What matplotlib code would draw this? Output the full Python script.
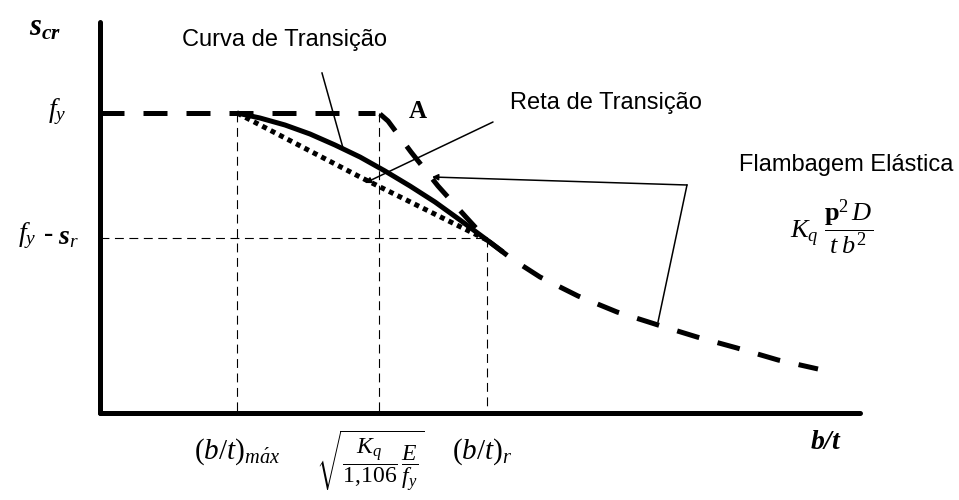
import matplotlib.pyplot as plt

plt.rcParams['mathtext.fontset'] = 'custom'
plt.rcParams['mathtext.rm'] = 'Liberation Serif'
plt.rcParams['mathtext.it'] = 'Liberation Serif:italic'
plt.rcParams['mathtext.bf'] = 'Liberation Serif:bold'
plt.rcParams['mathtext.bfit'] = 'Liberation Serif:italic:bold'

# diagram coordinates (same scale as the picture, y grows downwards)
origin = (100, 413)
axis_top = 22
axis_end = 860

fy = 113          # f_y level
fy_sr = 238       # f_y - s_r level
bt_max = 237      # (b/t)max
bt_sqrt = 379     # sqrt(Kq/1,106 E/fy)
bt_r = 487        # (b/t)r
plateau_end = 375

# Curva de Transição (solid)
curva_x = [237, 260, 285, 310, 335, 360, 385, 410, 435, 460, 487, 503]
curva_y = [113, 118, 125, 134, 145, 157, 171, 186, 202, 220, 240, 252]

# Reta de Transição (dotted)
reta_x = [237, 362, 487]
reta_y = [113, 178, 240]

# Flambagem Elástica (thick dashed)
elast_x = [380, 388, 411, 438, 465, 487, 512, 540, 578, 617, 658, 697, 737, 778, 818]
elast_y = [114, 121, 152, 186, 216, 240, 259, 277, 296, 312, 325, 337, 348, 360, 369]

# leader lines
curva_lead = ([322, 343], [73, 148])
reta_lead = ([493, 365], [122, 183])
flamb_lead = ([687, 658], [185, 322])
flamb_tip = ([687, 432], [185, 177])

fig = plt.figure(figsize=(9.59, 5.0), dpi=100)
ax = fig.add_axes([0, 0, 1, 1])
ax.set_xlim(0, 959)
ax.set_ylim(500, 0)
ax.axis('off')

thick = 3.6
# axes
ax.plot([origin[0], origin[0]], [axis_top, origin[1]], color='k', lw=thick, solid_capstyle='round')
ax.plot([origin[0], axis_end], [origin[1], origin[1]], color='k', lw=thick, solid_capstyle='round')

# thin dashed guides
thin = dict(color='k', lw=0.8, ls=(0, (8, 5)))
ax.plot([origin[0], bt_r], [fy_sr, fy_sr], **thin)
ax.plot([bt_max, bt_max], [fy, origin[1]], **thin)
ax.plot([bt_sqrt, bt_sqrt], [fy, origin[1]], **thin)
ax.plot([bt_r, bt_r], [fy_sr, origin[1]], **thin)

# plateau and elastic curve
ax.plot([origin[0], plateau_end], [fy, fy], color='k', lw=thick,
        ls=(0, (4.8, 3.8)), dash_capstyle='butt')
ax.plot(elast_x, elast_y, color='k', lw=thick, ls=(0, (4.6, 3.8)), dash_capstyle='butt')

# transition curve and line
ax.plot(curva_x, curva_y, color='k', lw=thick, solid_capstyle='butt', solid_joinstyle='round')
ax.plot(reta_x, reta_y, color='k', lw=thick, ls=(0, (1, 0.9)), dash_capstyle='butt')

# leaders
ax.plot(*curva_lead, color='k', lw=1.1)
ax.annotate('', xy=(reta_lead[0][1], reta_lead[1][1]), xytext=(reta_lead[0][0], reta_lead[1][0]),
            arrowprops=dict(arrowstyle='-|>', color='k', lw=1.1, mutation_scale=9, shrinkA=0, shrinkB=0))
ax.plot(*flamb_lead, color='k', lw=1.1)
ax.annotate('', xy=(flamb_tip[0][1], flamb_tip[1][1]), xytext=(flamb_tip[0][0], flamb_tip[1][0]),
            arrowprops=dict(arrowstyle='-|>', color='k', lw=1.1, mutation_scale=9, shrinkA=0, shrinkB=0))

# texts
sans = dict(family='Liberation Sans', fontsize=17, color='k')
ax.text(285, 40, 'Curva de Transição', ha='center', va='center', **sans)
ax.text(606, 103, 'Reta de Transição', ha='center', va='center', **sans)
ax.text(846, 165, 'Flambagem Elástica', ha='center', va='center', **sans)

ax.text(418, 112, 'A', family='Liberation Serif', fontweight='bold', fontsize=18,
        ha='center', va='center')
ax.text(790, 228, r'$K_q\ \dfrac{\mathbf{p}^2\,D}{t\;b^2}$', fontsize=19, ha='left', va='center')

ax.text(45, 28, r'$\mathbfit{s}_{\mathbfit{cr}}$', fontsize=22, ha='center', va='center')
ax.text(57, 112, r'$f_y$', fontsize=20, ha='center', va='center')
ax.text(27, 236, r'$f_y$', fontsize=20, ha='center', va='center')
ax.text(49, 234, '-', family='Liberation Serif', fontweight='bold', fontsize=20,
        ha='center', va='center')
ax.text(68, 236, r'$\mathbfit{s}_r$', fontsize=20, ha='center', va='center')

ax.text(237, 452, r'$(b/t)_{m\acute{a}x}$', fontsize=21, ha='center', va='center')
ax.text(370, 461, r'$\sqrt{\dfrac{K_q}{\mathit{1{,}106}}\,\dfrac{E}{f_y}}$', fontsize=17,
        ha='center', va='center')
ax.text(482, 452, r'$(b/t)_r$', fontsize=21, ha='center', va='center')
ax.text(826, 441, r'$\mathbfit{b/t}$', fontsize=20, ha='center', va='center')

fig.savefig('out.png', dpi=100)
